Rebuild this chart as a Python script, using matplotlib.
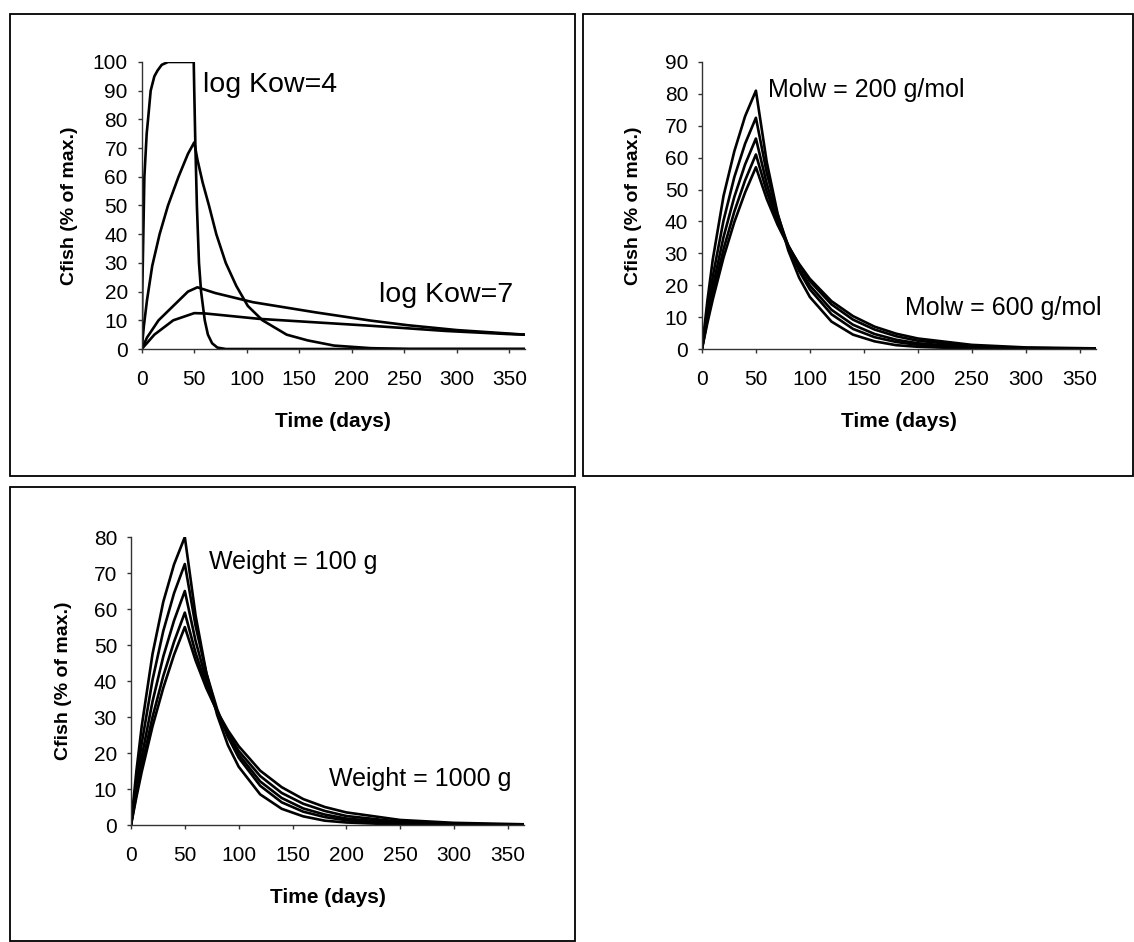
import matplotlib.pyplot as plt
from matplotlib.patches import Rectangle

plt.rcParams['font.family'] = ['Liberation Sans', 'DejaVu Sans']

# ---------------- panel 1 : log Kow = 4 ... 7 ----------------
kow4_t = [0, 0.5, 1.5, 2.5, 4.7, 6, 8.5, 12, 15, 19, 25, 49.5, 50, 51, 52.5, 54.5, 56.5, 60, 63, 67, 72, 80, 365]
kow4_y = [0, 20, 40, 60, 75, 80, 90, 95, 97, 99, 100, 100, 90, 72, 50, 30, 20, 10, 5, 2, 0.5, 0, 0]
kow5_t = [0, 2, 5, 10, 17, 25, 35, 44, 50, 53, 58, 64, 71, 80, 90, 101, 115, 138, 158, 183, 218, 255, 365]
kow5_y = [0, 8, 17, 29, 40, 50, 60, 68, 72, 66, 58, 50, 40, 30, 22, 15, 10, 5, 3, 1.2, 0.3, 0, 0]
kow6_t = [0, 5, 16, 30, 44, 53, 70, 106, 165, 218, 253, 300, 349, 365]
kow6_y = [0, 4, 10, 15, 20, 21.5, 19.5, 16.3, 12.8, 9.9, 8.3, 6.6, 5.4, 5]
kow7_t = [0, 12, 30, 50, 60, 112, 218, 289, 349, 365]
kow7_y = [0, 5, 10, 12.5, 12.4, 10.5, 8.1, 6.3, 5.2, 5]

# ---------------- panels 2 and 3 share the same time points ----------------
days = [0, 5, 10, 20, 30, 40, 50, 60, 70, 80, 90, 100, 120, 140, 160, 180, 200, 250, 300, 365]

molw_200 = [0, 15, 28, 48, 62, 73, 81, 58.7, 42.6, 30.9, 22.4, 16.3, 8.6, 4.5, 2.4, 1.2, 0.7, 0.1, 0, 0]
molw_300 = [0, 12.1, 22.7, 40.3, 53.9, 64.4, 72.5, 55.3, 42.2, 32.2, 24.5, 18.7, 10.9, 6.3, 3.7, 2.2, 1.3, 0.3, 0.1, 0]
molw_400 = [0, 10.2, 19.4, 35.1, 47.7, 57.9, 66, 51.9, 40.8, 32.1, 25.2, 19.9, 12.3, 7.6, 4.7, 2.9, 1.8, 0.5, 0.1, 0]
molw_500 = [0, 9.0, 17.1, 31.3, 43.1, 52.9, 61, 49.4, 40.1, 32.5, 26.3, 21.3, 14.0, 9.2, 6.1, 4.0, 2.6, 0.9, 0.3, 0.1]
molw_600 = [0, 8.1, 15.5, 28.7, 39.8, 49.1, 57, 47.1, 39, 32.2, 26.7, 22, 15, 10.3, 7.0, 4.8, 3.3, 1.3, 0.5, 0.2]

weight_100 = [0, 14.9, 27.5, 47.5, 62, 72.4, 80, 58.2, 42.2, 30.6, 22.2, 16.2, 8.5, 4.5, 2.4, 1.2, 0.7, 0.1, 0, 0]
weight_250 = [0, 12.1, 22.7, 40.3, 53.9, 64.4, 72.5, 55.3, 42.2, 32.2, 24.5, 18.7, 10.9, 6.3, 3.7, 2.2, 1.3, 0.3, 0.1, 0]
weight_500 = [0, 10, 18.9, 34.3, 46.8, 56.8, 65, 51.1, 40.2, 31.6, 24.8, 19.6, 12.1, 7.5, 4.6, 2.9, 1.8, 0.5, 0.1, 0]
weight_750 = [0, 8.5, 16.3, 30, 41.4, 50.9, 59, 47.8, 38.8, 31.4, 25.5, 20.6, 13.6, 8.9, 5.9, 3.9, 2.5, 0.9, 0.3, 0.1]
weight_1000 = [0, 7.7, 14.8, 27.4, 38.1, 47.3, 55, 45.7, 38, 31.6, 26.3, 21.9, 15.1, 10.5, 7.2, 5.0, 3.5, 1.4, 0.6, 0.2]

x_ticks = [0, 50, 100, 150, 200, 250, 300, 350]
x_label = 'Time (days)'
y_label = 'Cfish (% of max.)'


def style_axes(ax, ymax, ylab_x):
    ax.set_xlim(0, 365)
    ax.set_ylim(0, ymax)
    ax.set_xticks(x_ticks)
    ax.set_yticks(range(0, ymax + 1, 10))
    for side in ['top', 'right']:
        ax.spines[side].set_visible(False)
    for side in ['left', 'bottom']:
        ax.spines[side].set_color('#333333')
        ax.spines[side].set_linewidth(1.0)
    ax.tick_params(axis='both', direction='out', length=3, width=1, color='#333333', labelsize=15)
    ax.tick_params(axis='x', pad=12)
    ax.tick_params(axis='y', pad=7)
    ax.set_xlabel(x_label, fontsize=15, fontweight='bold')
    ax.set_ylabel(y_label, fontsize=14, fontweight='bold')
    ax.xaxis.set_label_coords(0.5, -0.22)
    ax.yaxis.set_label_coords(ylab_x, 0.5)


fig = plt.figure(figsize=(11.34, 9.42), dpi=100)

# frames around each chart, like the boxes in the report
for x0, y0, w, h in [(0.0088, 0.4947, 0.4983, 0.4904), (0.5141, 0.4947, 0.4850, 0.4904), (0.0088, 0.0010, 0.4983, 0.4820)]:
    fig.patches.append(Rectangle((x0, y0), w, h, transform=fig.transFigure, fill=False, lw=1.3, ec='black'))

ax1 = fig.add_axes([0.125, 0.6295, 0.338, 0.3047])
ax2 = fig.add_axes([0.619, 0.6295, 0.3474, 0.3047])
ax3 = fig.add_axes([0.1155, 0.1242, 0.3466, 0.3057])

lw = 1.9
ax1.plot(kow4_t, kow4_y, color='black', lw=lw)
ax1.plot(kow5_t, kow5_y, color='black', lw=lw)
ax1.plot(kow6_t, kow6_y, color='black', lw=lw)
ax1.plot(kow7_t, kow7_y, color='black', lw=lw)
style_axes(ax1, 100, -0.166)
ax1.text(58, 89.6, 'log Kow=4', fontsize=20.5, va='baseline')
ax1.text(226, 16.3, 'log Kow=7', fontsize=20.5, va='baseline')

for series in [molw_200, molw_300, molw_400, molw_500, molw_600]:
    ax2.plot(days, series, color='black', lw=lw)
style_axes(ax2, 90, -0.152)
ax2.text(61, 79.1, 'Molw = 200 g/mol', fontsize=18, va='baseline')
ax2.text(188, 10.7, 'Molw = 600 g/mol', fontsize=18, va='baseline')

for series in [weight_100, weight_250, weight_500, weight_750, weight_1000]:
    ax3.plot(days, series, color='black', lw=lw)
style_axes(ax3, 80, -0.150)
ax3.text(72, 71.2, 'Weight = 100 g', fontsize=18, va='baseline')
ax3.text(184, 10.7, 'Weight = 1000 g', fontsize=18, va='baseline')

fig.savefig('out.png', dpi=100)
